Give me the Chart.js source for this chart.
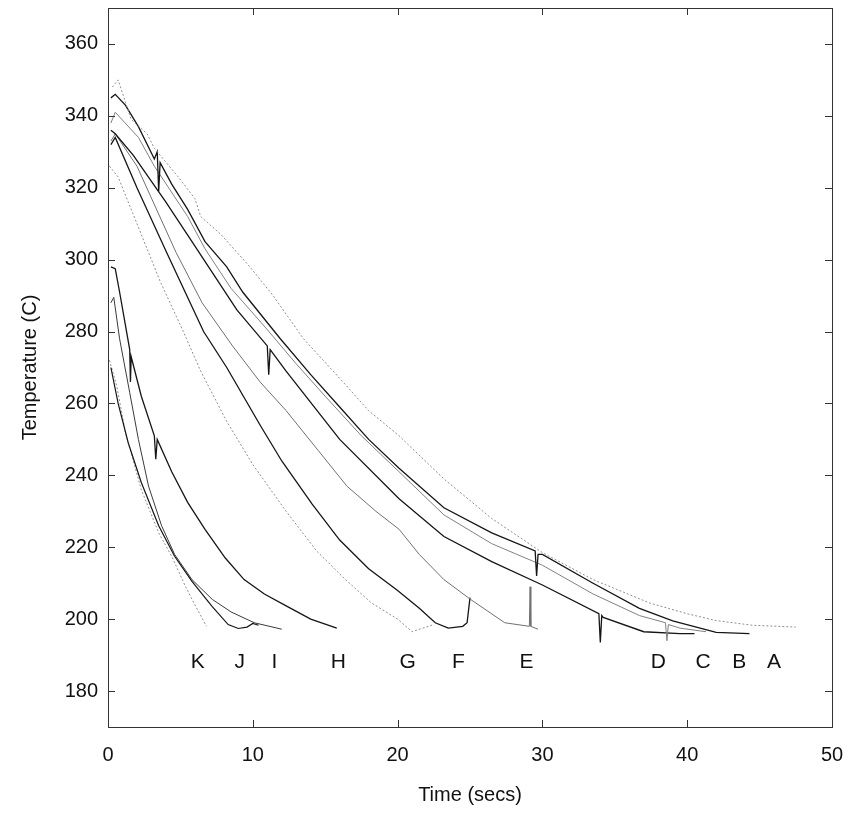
<!DOCTYPE html>
<html lang="en">
<head>
  <meta charset="UTF-8" />
  <title>Cooling curves</title>
  <script src="https://cdn.jsdelivr.net/npm/chart.js"></script>
  <style>
    html, body { margin: 0; padding: 0; background: #fff; }
  </style>
</head>
<body>
  <canvas id="chartCurvas" width="853" height="817"></canvas>

  <script>
    // Tick values
    const xTicks = [0, 10, 20, 30, 40, 50];
    const yTicks = [180, 200, 220, 240, 260, 280, 300, 320, 340, 360];

    // Curve names (letters written under each curve end)
    const curveNames = ['A', 'B', 'C', 'D', 'E', 'F', 'G', 'H', 'I', 'J', 'K'];

    // Time (secs) / Temperature (C)
    const tA = [0.3, 0.7, 1.6, 2.7, 3.2, 4.85, 6.0, 6.4, 7.8, 9.8, 11.4, 13.5, 16.0, 18.0, 20.1, 23.2, 26.5, 30.0, 33.5, 37.4, 40.0, 42.0, 44.5, 47.5];
    const vA = [348, 350, 339, 335, 331, 323, 317, 312, 307, 298, 290, 278, 267, 258, 251, 239, 228, 218.5, 211, 204.5, 201.5, 199.6, 198.3, 197.8];

    const tB = [0.2, 0.5, 1.2, 2.1, 3.2, 3.4, 3.5, 3.6, 4.4, 5.5, 6.7, 8.2, 9.3, 11.9, 14.0, 16.0, 18.0, 20.1, 23.2, 26.5, 29.5, 29.6, 29.7, 30.0, 33.5, 36.7, 39.0, 42.0, 44.3];
    const vB = [345, 346, 343, 337, 328, 330, 319, 327, 321, 314, 305, 298, 291, 278, 268, 259, 250, 242, 231, 224, 219, 212, 218, 218, 210, 203, 199.5, 196.3, 196];

    const tC = [0.2, 0.5, 2.1, 3.2, 5.5, 6.7, 8.5, 10.9, 13.0, 15.0, 17.5, 20.1, 23.2, 26.5, 30.0, 33.5, 36.7, 38.5, 38.6, 38.7, 39.5, 41.3];
    const vC = [338, 341, 334, 326, 312, 303, 292, 281, 271, 262, 251, 241, 229, 221, 215, 207, 201, 199, 194, 198.5, 197.5, 196.5];

    const tD = [0.2, 0.5, 1.75, 4.0, 5.8, 8.9, 11.0, 11.1, 11.2, 12.3, 16.0, 20.1, 23.2, 26.5, 30.0, 33.9, 34.0, 34.1, 34.2, 37.0, 39.5, 40.5];
    const vD = [336, 335, 329, 316, 305, 286, 276, 268, 275, 269, 250, 233.5, 223, 216, 209.5, 201.5, 193.5, 201, 200.5, 196.5, 196, 196];

    const tE = [0.2, 0.5, 2.0, 4.7, 6.5, 8.6, 10.5, 12.3, 14.5, 16.5, 18.5, 20.1, 21.5, 23.2, 25.0, 27.4, 29.1, 29.15, 29.2, 29.7];
    const vE = [333, 335, 326, 302, 288, 276, 266, 258, 247, 237, 230, 225, 218, 211, 205.6, 199, 198, 209, 198, 197.2];

    const tF = [0.2, 0.5, 2.0, 4.05, 6.6, 8.2, 10.5, 12.0, 14.1, 16.0, 18.0, 20.0, 21.5, 22.6, 23.5, 24.5, 24.8, 25.0];
    const vF = [332, 334, 320, 302, 280, 270, 254, 244, 232, 222, 214, 208, 203, 199, 197.5, 198, 199, 206];

    const tG = [0.1, 0.7, 2.1, 3.6, 5.2, 6.4, 8.2, 10.0, 12.3, 14.4, 16.4, 18.2, 20.0, 21.0, 22.5];
    const vG = [326, 323, 309, 294, 280, 269, 255, 243, 230, 219, 211, 204.5, 200, 196.5, 198.5];

    const tH = [0.2, 0.5, 0.8, 1.5, 1.55, 1.6, 2.3, 3.2, 3.3, 3.4, 4.4, 5.5, 6.7, 8.1, 9.4, 10.8, 12.4, 14.0, 15.8];
    const vH = [298, 297.5, 291, 275, 266, 273, 262, 251, 244.5, 250, 241, 232.5, 225, 217, 211, 207, 203.5, 200, 197.5];

    const tI = [0.2, 0.4, 0.8, 1.5, 2.1, 2.8, 3.7, 4.6, 5.8, 7.2, 8.5, 10.1, 12.0];
    const vI = [288, 289.5, 278, 263, 250, 237, 226, 218, 211, 205.5, 202, 199, 197.2];

    const tJ = [0.2, 0.7, 1.4, 2.3, 3.5, 4.6, 5.8, 7.2, 8.3, 9.0, 9.6, 10.0, 10.4];
    const vJ = [270, 260, 249, 238, 226, 217.5, 210.5, 203.5, 198.5, 197.4, 197.8, 198.8, 198.3];

    const tK = [0.1, 0.6, 1.2, 2.3, 3.5, 4.4, 5.3, 6.0, 6.8];
    const vK = [272, 265, 252, 236, 224, 217.5, 209.5, 204, 198];

    const times = [tA, tB, tC, tD, tE, tF, tG, tH, tI, tJ, tK];
    const temps = [vA, vB, vC, vD, vE, vF, vG, vH, vI, vJ, vK];

    // where the letters sit (time axis), and their height in deg C
    const letterAt = [46.0, 43.6, 41.1, 38.0, 28.9, 24.2, 20.7, 15.9, 11.5, 9.1, 6.2];
    const letterTemp = 188;

    // line looks: solid black, grey, dotted grey
    const estilos = {
      A: { color: '#8f8f8f', width: 1, dash: [2, 2] },
      B: { color: '#151515', width: 1.3, dash: [] },
      C: { color: '#808080', width: 1, dash: [] },
      D: { color: '#151515', width: 1.3, dash: [] },
      E: { color: '#707070', width: 1, dash: [] },
      F: { color: '#151515', width: 1.3, dash: [] },
      G: { color: '#8f8f8f', width: 1, dash: [2, 2] },
      H: { color: '#151515', width: 1.3, dash: [] },
      I: { color: '#3a3a3a', width: 1, dash: [] },
      J: { color: '#151515', width: 1.2, dash: [] },
      K: { color: '#8f8f8f', width: 1, dash: [2, 2] }
    };

    const datasets = curveNames.map((name, i) => ({
      label: name,
      data: times[i].map((t, j) => ({ x: t, y: temps[i][j] })),
      borderColor: estilos[name].color,
      borderWidth: estilos[name].width,
      borderDash: estilos[name].dash,
      pointRadius: 0,
      tension: 0,
      fill: false
    }));

    // box, inward ticks and curve letters
    const marcoPlugin = {
      id: 'marco',
      afterDraw(chart) {
        const { ctx, chartArea: a, scales: { x, y } } = chart;
        ctx.save();
        ctx.strokeStyle = '#333';
        ctx.lineWidth = 1;
        ctx.strokeRect(a.left + 0.5, a.top + 0.5, a.right - a.left, a.bottom - a.top);
        const len = 7;
        ctx.beginPath();
        xTicks.forEach(v => {
          const px = Math.round(x.getPixelForValue(v)) + 0.5;
          ctx.moveTo(px, a.bottom); ctx.lineTo(px, a.bottom - len);
          ctx.moveTo(px, a.top); ctx.lineTo(px, a.top + len);
        });
        yTicks.forEach(v => {
          const py = Math.round(y.getPixelForValue(v)) + 0.5;
          ctx.moveTo(a.left, py); ctx.lineTo(a.left + len, py);
          ctx.moveTo(a.right, py); ctx.lineTo(a.right - len, py);
        });
        ctx.stroke();

        ctx.fillStyle = '#111';
        ctx.font = '21px "Liberation Sans", Arial, sans-serif';
        ctx.textAlign = 'center';
        ctx.textBaseline = 'middle';
        curveNames.forEach((name, i) => {
          ctx.fillText(name, x.getPixelForValue(letterAt[i]), y.getPixelForValue(letterTemp));
        });
        ctx.restore();
      }
    };

    Chart.defaults.font.family = '"Liberation Sans", Arial, Helvetica, sans-serif';
    Chart.defaults.color = '#111';

    new Chart(document.getElementById('chartCurvas').getContext('2d'), {
      type: 'line',
      data: { datasets },
      options: {
        responsive: false,
        animation: false,
        layout: { padding: { top: 8, right: 21, left: 0, bottom: 0 } },
        plugins: {
          legend: { display: false },
          tooltip: { enabled: false }
        },
        scales: {
          x: {
            type: 'linear',
            min: 0,
            max: 50,
            afterBuildTicks: s => { s.ticks = xTicks.map(v => ({ value: v })); },
            afterFit: s => { s.height = 90; s.paddingLeft = 0; s.paddingRight = 0; },
            ticks: { font: { size: 20 }, padding: 16, maxRotation: 0 },
            grid: { display: false, drawTicks: false },
            border: { display: false },
            title: { display: true, text: 'Time (secs)', font: { size: 20 }, padding: { top: 0, bottom: 10 } }
          },
          y: {
            type: 'linear',
            min: 170,
            max: 370,
            afterBuildTicks: s => { s.ticks = yTicks.map(v => ({ value: v })); },
            afterFit: s => { s.width = 108; s.paddingTop = 0; s.paddingBottom = 0; },
            ticks: { font: { size: 20 }, padding: 10 },
            grid: { display: false, drawTicks: false },
            border: { display: false },
            title: { display: true, text: 'Temperature (C)', font: { size: 20 }, padding: { top: 18, bottom: 0 } }
          }
        }
      },
      plugins: [marcoPlugin]
    });
  </script>
</body>
</html>
